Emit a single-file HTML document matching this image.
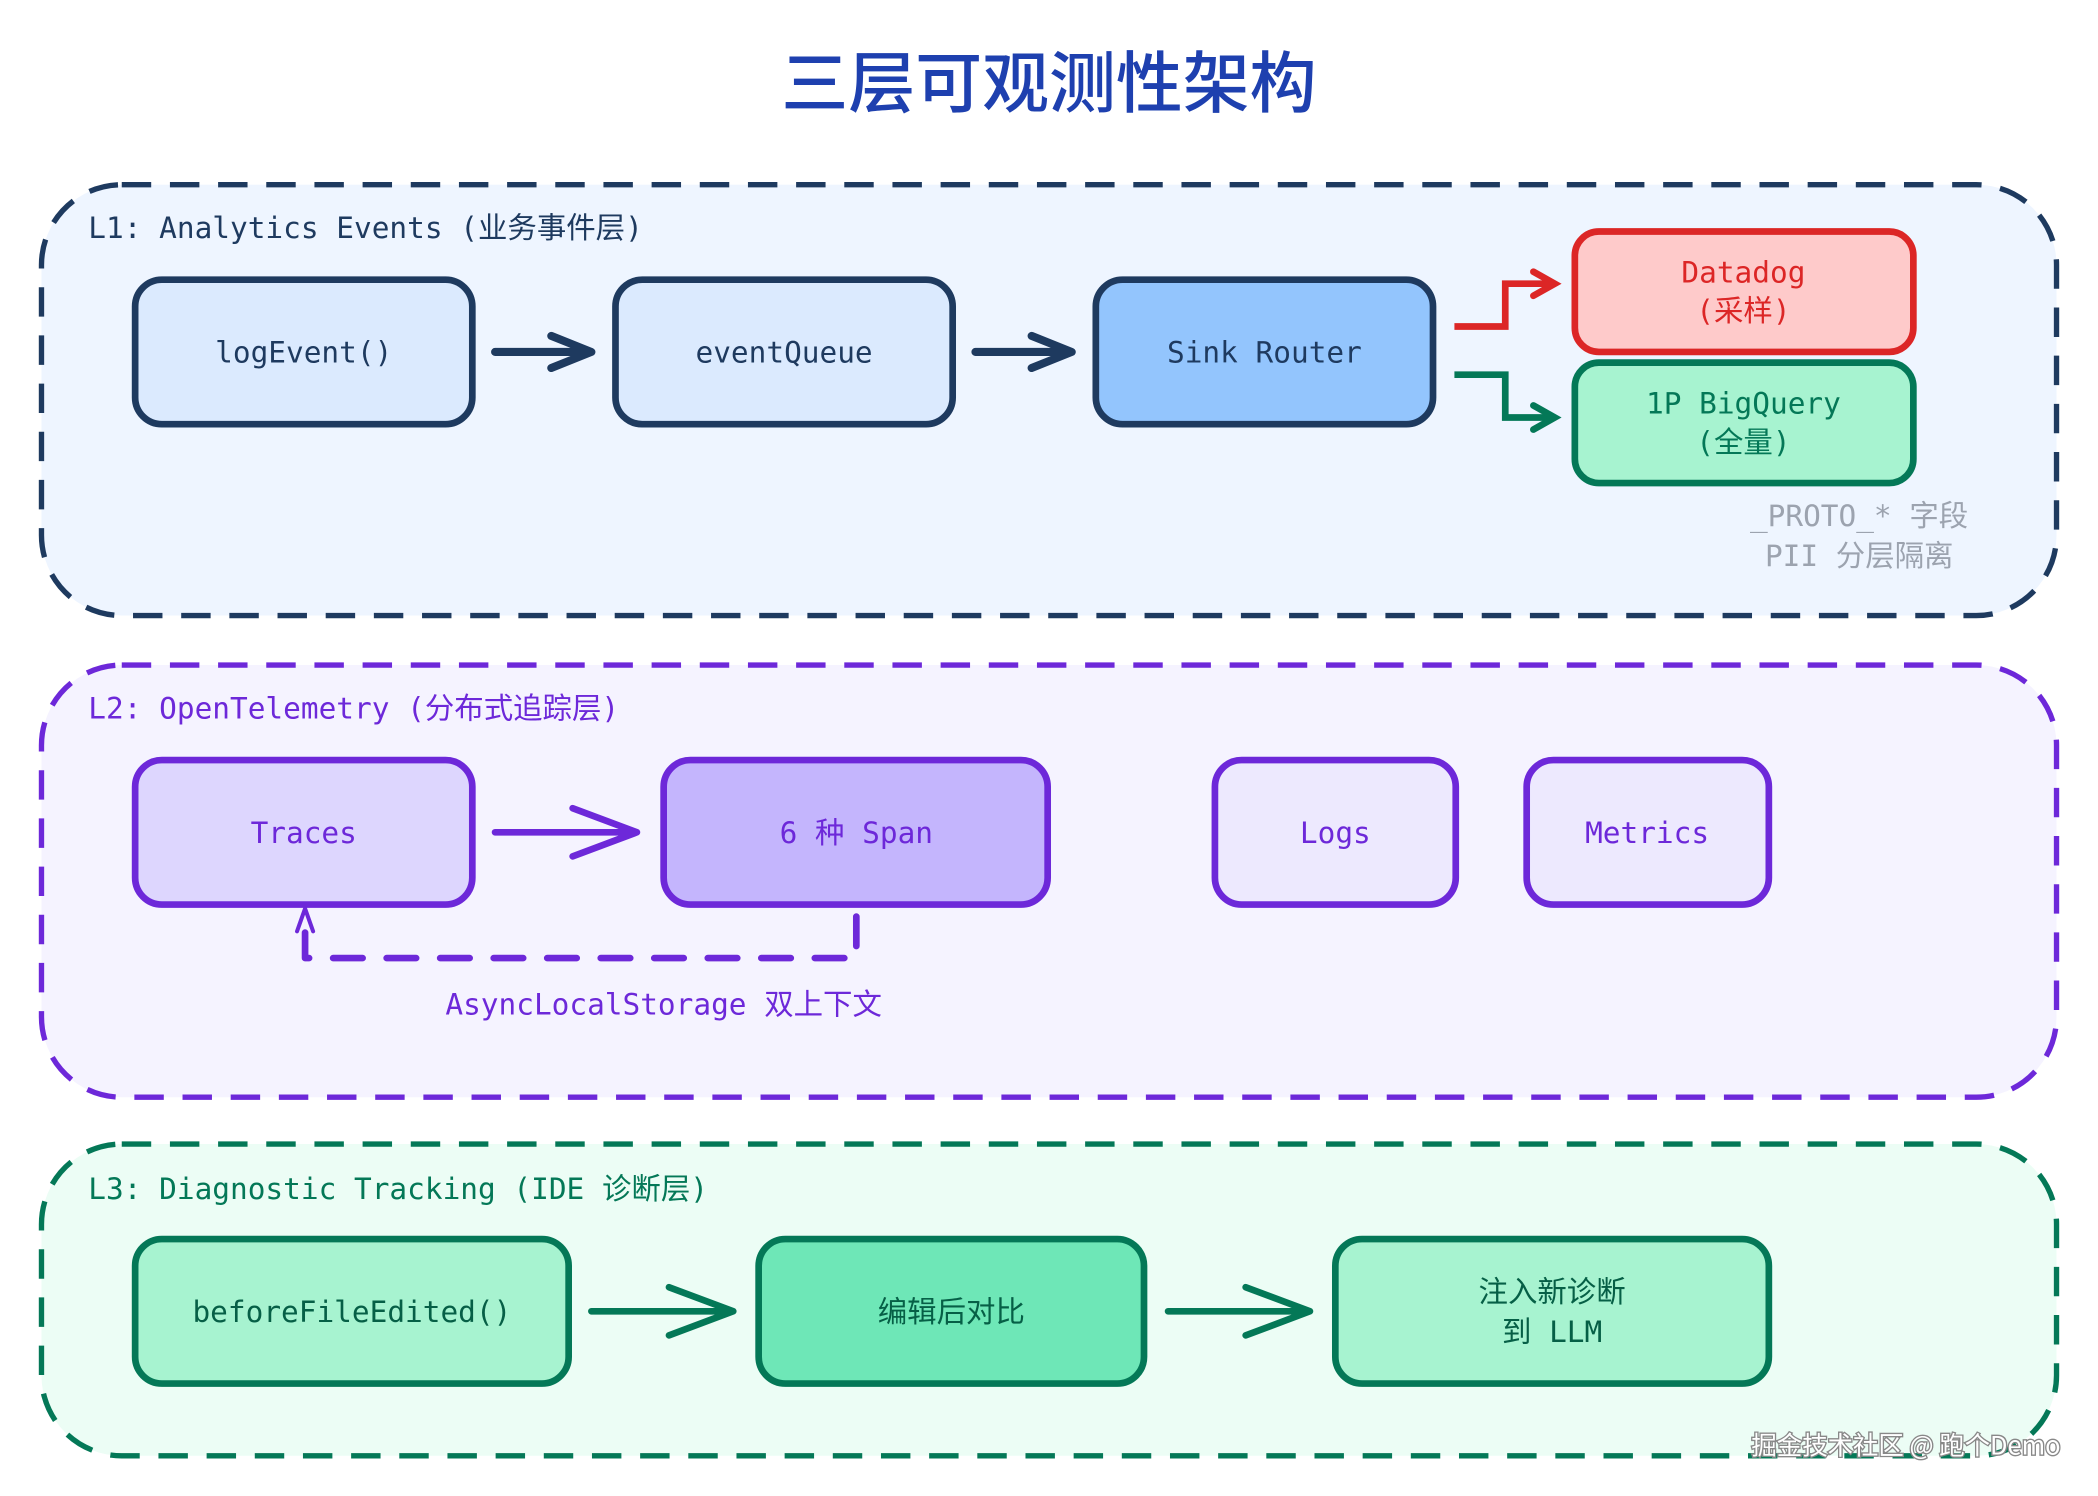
<!DOCTYPE html>
<html><head><meta charset="utf-8"><style>
html,body{margin:0;padding:0;background:#fff;}
svg{display:block;}
text{font-family:"DejaVu Sans Mono","Noto Sans CJK SC",monospace;font-weight:normal;}
</style></head><body>
<svg width="2098" height="1496" viewBox="0 0 1568 1118" xmlns="http://www.w3.org/2000/svg">
<rect width="1568" height="1118" fill="#fff"/>
<text x="784" y="80" text-anchor="middle" font-size="50" fill="#1e40af" style="font-family:'Noto Sans CJK SC',sans-serif;font-weight:500">三层可观测性架构</text>

<!-- L1 -->
<rect x="31" y="138" width="1506" height="322" rx="60" fill="#eef5ff" stroke="#1e3a5f" stroke-width="4" stroke-dasharray="22 14"/>
<text x="66" y="178" font-size="22" fill="#1e3a5f">L1: Analytics Events (业务事件层)</text>
<g stroke="#1e3a5f" stroke-width="5">
<rect x="101" y="209" width="252" height="108" rx="20" fill="#dbeafe"/>
<rect x="460" y="209" width="252" height="108" rx="20" fill="#dbeafe"/>
<rect x="819" y="209" width="252" height="108" rx="20" fill="#93c5fd"/>
</g>
<g font-size="22" fill="#1e3a5f" text-anchor="middle">
<text x="227" y="271">logEvent()</text>
<text x="586" y="271">eventQueue</text>
<text x="945" y="271">Sink Router</text>
</g>
<g fill="none" stroke="#1e3a5f" stroke-width="6" stroke-linecap="round" stroke-linejoin="round">
<path d="M370 263H440M412 251L442 263L412 275"/>
<path d="M729 263H799M771 251L801 263L771 275"/>
</g>
<rect x="1177" y="173" width="253" height="90" rx="18" fill="#fecaca" stroke="#dc2626" stroke-width="5"/>
<rect x="1177" y="271" width="253" height="90" rx="18" fill="#a7f3d0" stroke="#047857" stroke-width="5"/>
<g font-size="22" text-anchor="middle">
<text x="1303" y="211" fill="#dc2626">Datadog</text>
<text x="1303" y="240" fill="#dc2626">(采样)</text>
<text x="1303" y="309" fill="#047857">1P BigQuery</text>
<text x="1303" y="338" fill="#047857">(全量)</text>
</g>
<path d="M1087 244H1125V212H1158" fill="none" stroke="#dc2626" stroke-width="5"/>
<path d="M1146 203L1162 212L1146 221" fill="none" stroke="#dc2626" stroke-width="5" stroke-linecap="round"/>
<path d="M1087 280H1125V312H1158" fill="none" stroke="#047857" stroke-width="5"/>
<path d="M1146 303L1162 312L1146 321" fill="none" stroke="#047857" stroke-width="5" stroke-linecap="round"/>
<g font-size="22" fill="#9ca3af" text-anchor="end">
<text x="1471" y="393">_PROTO_* 字段</text>
<text x="1460" y="423">PII 分层隔离</text>
</g>

<!-- L2 -->
<rect x="31" y="497" width="1506" height="323" rx="60" fill="#f5f3ff" stroke="#6d28d9" stroke-width="4" stroke-dasharray="22 14"/>
<text x="66" y="537" font-size="22" fill="#6d28d9">L2: OpenTelemetry (分布式追踪层)</text>
<g stroke="#6d28d9" stroke-width="5">
<rect x="101" y="568" width="252" height="108" rx="20" fill="#ddd6fe"/>
<rect x="496" y="568" width="287" height="108" rx="20" fill="#c4b5fd"/>
<rect x="908" y="568" width="180" height="108" rx="20" fill="#ede9fe"/>
<rect x="1141" y="568" width="181" height="108" rx="20" fill="#ede9fe"/>
</g>
<g font-size="22" fill="#6d28d9" text-anchor="middle">
<text x="227" y="630">Traces</text>
<text x="640" y="630">6 种 Span</text>
<text x="998" y="630">Logs</text>
<text x="1231" y="630">Metrics</text>
</g>
<g fill="none" stroke="#6d28d9" stroke-width="5" stroke-linecap="round" stroke-linejoin="round">
<path d="M370 622H476M428 604L476 622L428 640"/>
<path d="M640 685V716H228V680" stroke-dasharray="22 18"/>
<path d="M222 696L228 679L234 696" stroke-width="3"/>
</g>
<text x="496" y="758" font-size="22" fill="#6d28d9" text-anchor="middle">AsyncLocalStorage 双上下文</text>

<!-- L3 -->
<rect x="31" y="855" width="1506" height="233" rx="60" fill="#ecfdf5" stroke="#047857" stroke-width="4" stroke-dasharray="22 14"/>
<text x="66" y="896" font-size="22" fill="#047857">L3: Diagnostic Tracking (IDE 诊断层)</text>
<g stroke="#047857" stroke-width="5">
<rect x="101" y="926" width="324" height="108" rx="20" fill="#a7f3d0"/>
<rect x="567" y="926" width="288" height="108" rx="20" fill="#6ee7b7"/>
<rect x="998" y="926" width="324" height="108" rx="20" fill="#a7f3d0"/>
</g>
<g font-size="22" fill="#065f46" text-anchor="middle">
<text x="263" y="988">beforeFileEdited()</text>
<text x="711" y="988">编辑后对比</text>
<text x="1160" y="973">注入新诊断</text>
<text x="1160" y="1003">到 LLM</text>
</g>
<g fill="none" stroke="#047857" stroke-width="5" stroke-linecap="round" stroke-linejoin="round">
<path d="M442 980H548M500 962L548 980L500 998"/>
<path d="M873 980H979M931 962L979 980L931 998"/>
</g>
<text x="1540" y="1087" font-size="19" fill="#fff" stroke="#888" stroke-width="2" paint-order="stroke" text-anchor="end" style="font-family:'Noto Sans CJK SC',sans-serif;font-weight:400">掘金技术社区 @ 跑个Demo</text>
</svg>
</body></html>
